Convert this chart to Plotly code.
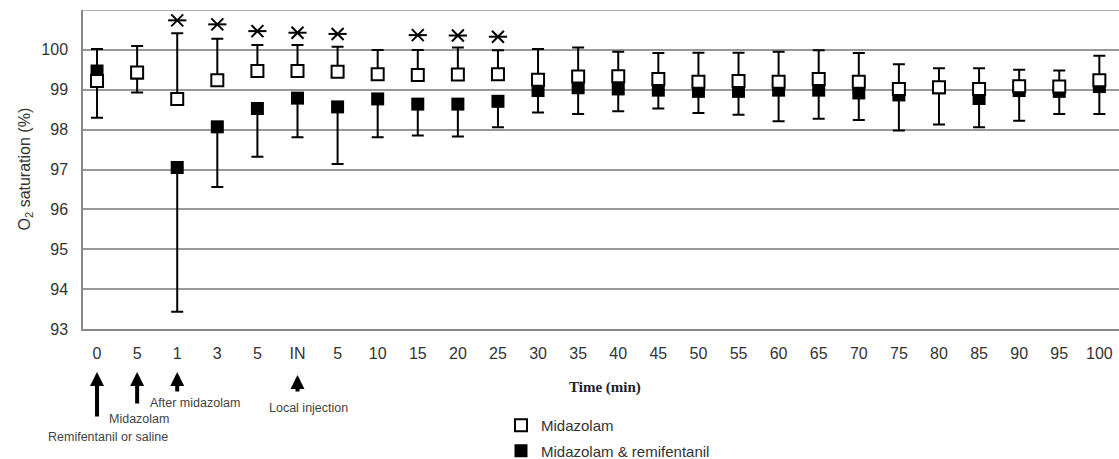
import plotly.graph_objects as go

# ---- data ----
time_labels = ['0', '5', '1', '3', '5', 'IN', '5', '10', '15', '20', '25', '30', '35', '40',
               '45', '50', '55', '60', '65', '70', '75', '80', '85', '90', '95', '100']

mid_mean = [99.22, 99.43, 98.77, 99.24, 99.47, 99.47, 99.45, 99.39, 99.37, 99.38, 99.39, 99.25, 99.33,
            99.34, 99.27, 99.20, 99.22, 99.20, 99.27, 99.20, 99.02, 99.06, 99.02, 99.09, 99.08, 99.24]
mid_upper = [100.02, 100.10, 100.42, 100.28, 100.12, 100.12, 100.08, 100.00, 100.00, 100.06, 99.99, 100.02, 100.06,
             99.95, 99.92, 99.93, 99.93, 99.95, 99.99, 99.92, 99.64, 99.54, 99.54, 99.50, 99.48, 99.85]

rem_mean = [99.47, 99.42, 97.05, 98.07, 98.53, 98.79, 98.57, 98.77, 98.64, 98.64, 98.71, 98.98, 99.05,
            99.02, 98.99, 98.96, 98.96, 98.99, 98.99, 98.92, 98.87, 99.05, 98.78, 98.98, 98.96, 99.08]
rem_lower = [98.30, 98.93, 93.43, 96.56, 97.32, 97.81, 97.14, 97.81, 97.85, 97.83, 98.06, 98.43, 98.39,
             98.46, 98.53, 98.42, 98.37, 98.21, 98.27, 98.24, 97.98, 98.13, 98.06, 98.22, 98.39, 98.39]

sig_idx = [2, 3, 4, 5, 6, 8, 9, 10]
sig_y = [100.74, 100.64, 100.47, 100.43, 100.40, 100.37, 100.36, 100.33]

y_ticks = [93, 94, 95, 96, 97, 98, 99, 100]
y_top = 101

xs = list(range(len(time_labels)))

FONT = "Arial, Liberation Sans, sans-serif"
TXT = "#333333"

fig = go.Figure()

# Midazolam & remifentanil (filled) - lower error only
fig.add_trace(go.Scatter(
    x=xs, y=rem_mean, mode='markers', name='Midazolam & remifentanil',
    legendgroup='b', legendrank=2,
    marker=dict(symbol='square', size=13, color='black', line=dict(color='black', width=0)),
    error_y=dict(type='data', symmetric=False,
                 array=[0.0] * len(rem_mean),
                 arrayminus=[m - l for m, l in zip(rem_mean, rem_lower)],
                 color='black', thickness=2, width=6),
))

# Midazolam (open) - upper error only
fig.add_trace(go.Scatter(
    x=xs, y=mid_mean, mode='markers', name='Midazolam',
    legendgroup='a', legendrank=1,
    marker=dict(symbol='square', size=12, color='white', line=dict(color='black', width=2)),
    error_y=dict(type='data', symmetric=False,
                 array=[u - m for u, m in zip(mid_upper, mid_mean)],
                 arrayminus=[0.0] * len(mid_mean),
                 color='black', thickness=2, width=6),
))

# significance asterisks (X + horizontal bar = 6-arm star)
for sym in ['x-thin-open', 'line-ew-open']:
    fig.add_trace(go.Scatter(
        x=sig_idx, y=sig_y, mode='markers', showlegend=False, hoverinfo='skip',
        marker=dict(symbol=sym, size=12 if sym == 'x-thin-open' else 13,
                    color='black', line=dict(color='black', width=2)),
    ))

L, R, T, B = 83, 0, 10, 130
W, H = 1119, 459
pw, ph = W - L - R, H - T - B


def px(xp):
    return (xp - L) / pw


def py(yp):
    return (T + ph - yp) / ph


annotations = []
# arrows
for idx, tip, tail in [(0, 372, 46), (1, 372, 33), (2, 372, 21), (5, 375, 18)]:
    annotations.append(dict(
        x=idx, y=py(tip), xref='x', yref='paper',
        ax=0, ay=tail, axref='pixel', ayref='pixel',
        showarrow=True, arrowhead=2, arrowwidth=4, arrowsize=0.7,
        arrowcolor='black', text='', standoff=0,
    ))

small = dict(family=FONT, size=12.5, color='#444444')
for txt, cx, cy in [("After midazolam", 195, 403), ("Midazolam", 139, 419),
                    ("Remifentanil or saline", 108, 437), ("Local injection", 308, 408)]:
    annotations.append(dict(text=txt, x=px(cx), y=py(cy), xref='paper', yref='paper',
                            xanchor='center', yanchor='middle', showarrow=False, font=small))

annotations.append(dict(text="<b>Time (min)</b>", x=px(605), y=py(387), xref='paper', yref='paper',
                        xanchor='center', yanchor='middle', showarrow=False,
                        font=dict(family="Liberation Serif, Times New Roman, serif", size=15, color='#222222')))

annotations.append(dict(text="O<sub>2</sub> saturation (%)", x=px(25), y=0.5, xref='paper', yref='paper',
                        xanchor='center', yanchor='middle', textangle=-90, showarrow=False,
                        font=dict(family=FONT, size=16, color=TXT)))

fig.update_layout(
    width=W, height=H,
    margin=dict(l=L, r=R, t=T, b=B, pad=0, autoexpand=False),
    paper_bgcolor='white', plot_bgcolor='white',
    font=dict(family=FONT, color=TXT),
    showlegend=True,
    legend=dict(x=px(501), y=py(409), xanchor='left', yanchor='top',
                font=dict(family=FONT, size=15, color=TXT),
                traceorder='grouped', tracegroupgap=3,
                bgcolor='rgba(0,0,0,0)', itemwidth=30),
    annotations=annotations,
    shapes=[dict(type='line', xref='paper', yref='y', x0=0, x1=1, y0=y_top, y1=y_top,
                 line=dict(color='#999999', width=1.5))],
    xaxis=dict(range=[-0.35, 25.49], tickmode='array', tickvals=xs, ticktext=time_labels,
               showgrid=False, zeroline=False, showline=True, linecolor='#888888', linewidth=1.5,
               ticks='', tickfont=dict(family=FONT, size=16, color=TXT), ticklabelstandoff=9),
    yaxis=dict(range=[93, y_top], tickmode='array', tickvals=y_ticks,
               showgrid=True, gridcolor='#999999', gridwidth=1.5, zeroline=False,
               showline=True, linecolor='#888888', linewidth=1.5,
               ticks='', tickfont=dict(family=FONT, size=16, color=TXT), ticklabelstandoff=10),
)

fig.write_html("out.html", config={'displayModeBar': False},
               post_script="document.body.style.margin='0';document.body.style.overflow='hidden';")
